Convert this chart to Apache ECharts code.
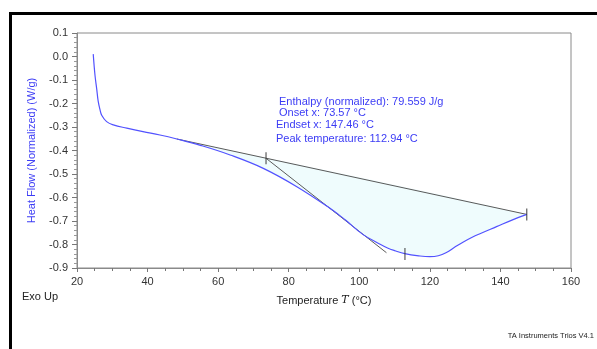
<!DOCTYPE html>
<html>
<head>
<meta charset="utf-8">
<script src="https://cdn.jsdelivr.net/npm/echarts@6/dist/echarts.min.js"></script>
<style>
  html, body { margin: 0; padding: 0; background: #fff; }
  #chart { width: 597px; height: 349px; }
</style>
</head>
<body>
<div id="chart"></div>
<script>
// DSC heat flow curve
const temps = [24.6, 25.1, 25.6, 26.0, 26.5, 27.0, 28.4, 30.3, 34.1, 38.7, 43.5, 48.3, 55, 63.4, 72.8,
  82.3, 91.7, 96, 101.1, 105.9, 108, 110, 112.9, 117.2, 120, 122.4, 124.7, 127, 129.5, 132, 134.2, 138.9,
  143.6, 147.46];
const heatFlow = [0.01, -0.08, -0.14, -0.19, -0.225, -0.25, -0.277, -0.291, -0.305, -0.32, -0.334, -0.351,
  -0.378, -0.419, -0.476, -0.554, -0.646, -0.695, -0.758, -0.799, -0.815, -0.826, -0.839, -0.849, -0.852,
  -0.848, -0.834, -0.812, -0.789, -0.769, -0.754, -0.724, -0.694, -0.672];

// integration baseline and onset tangent (start/end points)
const baseline = [[48.3, -0.351], [147.46, -0.672]];
const tangent = [[73.57, -0.433], [107.7, -0.835]];
// onset, peak, endset markers
const markers = [[73.57, -0.433], [112.94, -0.84], [147.46, -0.672]];

const xTicks = { min: 20, max: 160, interval: 20 };
const yTicks = { min: -0.9, max: 0.1, interval: 0.1 };

const notes = [
  "Enthalpy (normalized): 79.559 J/g",
  "Onset x: 73.57 °C",
  "Endset x: 147.46 °C",
  "Peak temperature: 112.94 °C",
];

const curve = temps.map((t, i) => [t, heatFlow[i]]);
const fillPts = curve.filter(p => p[0] >= baseline[0][0] && p[0] <= baseline[1][0]);

const chart = echarts.init(document.getElementById("chart"), null, { renderer: "canvas" });
const FONT = "Liberation Sans, Arial, sans-serif";
const BLUE = "#3c3cf5";

chart.setOption({
  animation: false,
  textStyle: { fontFamily: FONT },
  grid: { left: 77, right: 26, top: 33, bottom: 81, show: true, borderColor: "#8a8a8a", borderWidth: 1 },
  xAxis: {
    type: "value",
    min: xTicks.min, max: xTicks.max, interval: xTicks.interval,
    name: "Temperature {i|T} (°C)",
    nameLocation: "middle",
    nameGap: 27,
    nameTextStyle: {
      color: "#222", fontSize: 11, fontFamily: FONT,
      rich: { i: { fontFamily: "DejaVu Serif, serif", fontStyle: "italic", fontSize: 11, color: "#222" } },
    },
    axisLine: { onZero: false, lineStyle: { color: "#8a8a8a" } },
    axisTick: { length: 4, lineStyle: { color: "#777" } },
    minorTick: { show: true, splitNumber: 4, length: 3, lineStyle: { color: "#777" } },
    axisLabel: { color: "#333", fontSize: 11, margin: 8 },
    splitLine: { show: false },
  },
  yAxis: {
    type: "value",
    min: yTicks.min, max: yTicks.max, interval: yTicks.interval,
    name: "Heat Flow (Normalized) (W/g)",
    nameLocation: "middle",
    nameGap: 40,
    nameTextStyle: { color: BLUE, fontSize: 11, fontFamily: FONT },
    axisLine: { onZero: false, lineStyle: { color: "#8a8a8a" } },
    axisTick: { length: 5, lineStyle: { color: "#777" } },
    minorTick: { show: true, splitNumber: 5, length: 3, lineStyle: { color: "#999" } },
    axisLabel: { color: "#333", fontSize: 11, margin: 9, formatter: v => v.toFixed(1) },
    splitLine: { show: false },
  },
  series: [
    {
      // shaded peak area between curve and baseline
      type: "custom",
      data: [[0]],
      z: 1,
      renderItem: (params, api) => ({
        type: "polygon",
        shape: { points: fillPts.map(p => api.coord(p)), smooth: 0.3 },
        style: { fill: "#effcfd", stroke: null },
      }),
    },
    {
      type: "line",
      data: baseline,
      showSymbol: false,
      lineStyle: { color: "#5a5a5a", width: 1 },
      z: 2,
    },
    {
      type: "line",
      data: tangent,
      showSymbol: false,
      lineStyle: { color: "#5a5a5a", width: 1 },
      z: 2,
    },
    {
      type: "line",
      data: curve,
      showSymbol: false,
      smooth: 0.4,
      lineStyle: { color: "#5252ff", width: 1.2 },
      z: 3,
    },
    {
      type: "scatter",
      data: markers,
      symbol: "rect",
      symbolSize: [1.2, 12],
      itemStyle: { color: "#333" },
      z: 4,
    },
  ],
  graphic: [
    { type: "rect", left: 9, top: 12, shape: { width: 588, height: 3 }, style: { fill: "#000" } },
    { type: "rect", left: 9, top: 12, shape: { width: 3, height: 337 }, style: { fill: "#000" } },
    { type: "text", left: 279, top: 96, style: { text: notes[0], fill: BLUE, font: "11px " + FONT } },
    { type: "text", left: 279, top: 107, style: { text: notes[1], fill: BLUE, font: "11px " + FONT } },
    { type: "text", left: 276, top: 119, style: { text: notes[2], fill: BLUE, font: "11px " + FONT } },
    { type: "text", left: 276, top: 133, style: { text: notes[3], fill: BLUE, font: "11px " + FONT } },
    { type: "text", left: 22, top: 291, style: { text: "Exo Up", fill: "#222", font: "11px " + FONT } },
    { type: "text", right: 3, top: 332, style: { text: "TA Instruments Trios V4.1", fill: "#222", font: "7.5px " + FONT } },
  ],
});
</script>
</body>
</html>
